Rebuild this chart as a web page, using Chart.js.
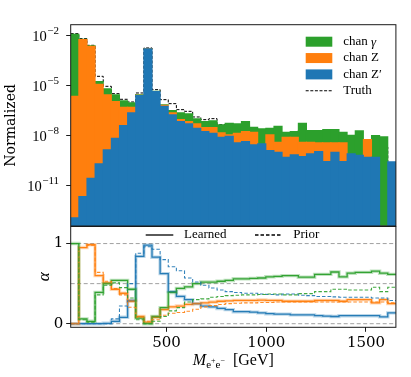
<!DOCTYPE html>
<html>
<head>
<meta charset="utf-8">
<script src="https://cdn.jsdelivr.net/npm/chart.js@4.4.0/dist/chart.umd.min.js"></script>
<style>
  html, body { margin: 0; padding: 0; background: #fff; }
  #wrap { position: relative; width: 411px; height: 377px; }
  canvas { position: absolute; left: 0; top: 0; }
</style>
</head>
<body>
<div id="wrap">
  <canvas id="top" width="411" height="377"></canvas>
  <canvas id="bot" width="411" height="377"></canvas>
</div>
<script>
// histogram binning (GeV)
const BIN_MIN = 20
const BIN_MAX = 1650
const N_BINS = 40

// stacked normalized histogram, one value per bin
const chanZp = [1.15e-13, 2.19e-12, 2.75e-11, 2.0e-10, 1.38e-9, 6.92e-9, 3.98e-8, 2.29e-7, 2.51e-6, 1.58e-3,
  4.37e-6, 5.75e-7, 1.74e-7, 6.92e-8, 5.01e-8, 2.75e-8, 1.74e-8, 1.38e-8, 7.94e-9, 9.12e-9,
  3.63e-9, 4.37e-9, 2.75e-9, 3.16e-9, 1.26e-9, 1.0e-9, 5.01e-10, 6.92e-10, 5.5e-10, 7.94e-10,
  1.1e-9, 2.75e-10, 1.0e-9, 2.75e-10, 7.94e-10, 6.61e-10, 5.01e-10, 5.01e-10, 0, 2.63e-10]
const chanZ = [2.29e-6, 5.75e-3, 2.29e-3, 1.2e-5, 2.75e-6, 1.1e-6, 4.61e-7, 2.72e-7, 1.2e-7, 1.0e-6,
  5.0e-8, 8.6e-8, 5.5e-8, 2.2e-8, 1.91e-8, 2.26e-8, 1.28e-8, 1.64e-8, 6.5e-9, 1.9e-9,
  1.02e-8, 1.3e-8, 1.31e-8, 0, 9.7e-9, 2.98e-9, 7.44e-9, 7.25e-9, 3.43e-9, 3.19e-9,
  2.53e-9, 3.36e-9, 2.63e-9, 3.36e-9, 0, 0, 5.25e-9, 0, 0, 0]
const chanGamma = [1.2e-2, 2.8e-4, 1.1e-4, 5.4e-6, 3.56e-6, 1.65e-6, 7.0e-7, 4.11e-7, 1.2e-7, 1.0e-6,
  5.0e-8, 3.1e-8, 8.7e-8, 1.38e-7, 1.31e-7, 5.0e-8, 3.9e-8, 4.57e-8, 2.92e-8, 4.4e-8,
  3.63e-8, 5.18e-8, 1.58e-8, 2.19e-8, 1.65e-8, 3.23e-8, 7.9e-9, 9.4e-9, 5.1e-8, 1.6e-8,
  1.64e-8, 1.93e-8, 1.93e-8, 1.22e-8, 9.7e-9, 1.84e-8, 0, 9.5e-9, 8.32e-9, 0]
const truth = [1.26e-2, 6.31e-3, 2.51e-3, 3.47e-5, 8.71e-6, 3.16e-6, 1.45e-6, 1.0e-6, 3.47e-6, 1.74e-3,
  5.5e-6, 1.38e-6, 7.94e-7, 3.47e-7, 2.75e-7, 1.26e-7, 8.71e-8, 1.0e-7, 4.37e-8, 4.37e-8,
  3.98e-8, 4.37e-8, 2.75e-8, 2.0e-8, 1.45e-8, 7.94e-9, 7.94e-9, 7.94e-9, 2.0e-8, 6.92e-9,
  6.31e-9, 5.01e-9, 4.37e-9, 3.98e-9, 3.16e-9, 2.09e-9, 2.09e-9, 6.61e-10, 2.0e-9, 8.32e-11]

// channel weights alpha per bin
const learnedGamma = [1.0, 0.06, 0.03, 0.39, 0.5, 0.54, 0.54, 0.43, 0.07, 0.0,
  0.09, 0.2, 0.39, 0.44, 0.46, 0.5, 0.52, 0.52, 0.53, 0.54,
  0.56, 0.56, 0.565, 0.57, 0.585, 0.59, 0.6, 0.6, 0.58, 0.58,
  0.615, 0.615, 0.645, 0.585, 0.63, 0.64, 0.64, 0.655, 0.63, 0.615]
const learnedZ = [0.0, 0.95, 0.985, 0.6, 0.51, 0.43, 0.38, 0.28, 0.09, 0.02,
  0.08, 0.175, 0.21, 0.22, 0.24, 0.25, 0.26, 0.27, 0.28, 0.285,
  0.29, 0.29, 0.29, 0.295, 0.29, 0.29, 0.28, 0.28, 0.28, 0.28,
  0.29, 0.29, 0.29, 0.28, 0.3, 0.3, 0.3, 0.26, 0.3, 0.25]
const learnedZp = [0.0, 0.0, 0.0, 0.0, 0.005, 0.03, 0.08, 0.29, 0.84, 0.98,
  0.83, 0.625, 0.4, 0.34, 0.3, 0.25, 0.22, 0.21, 0.19, 0.175,
  0.15, 0.15, 0.145, 0.135, 0.125, 0.12, 0.12, 0.11, 0.11, 0.11,
  0.1, 0.095, 0.09, 0.1, 0.1, 0.1, 0.1, 0.1, 0.085, 0.135]
const priorGamma = [1.0, 0.05, 0.02, 0.36, 0.48, 0.51, 0.45, 0.32, 0.05, 0.0,
  0.03, 0.09, 0.16, 0.2, 0.27, 0.3, 0.31, 0.33, 0.34, 0.35,
  0.355, 0.36, 0.36, 0.365, 0.37, 0.37, 0.36, 0.36, 0.375, 0.375,
  0.4, 0.4, 0.43, 0.43, 0.42, 0.42, 0.42, 0.455, 0.4, 0.455]
const priorZ = [0.0, 0.95, 0.98, 0.64, 0.53, 0.44, 0.36, 0.205, 0.08, 0.03,
  0.05, 0.105, 0.13, 0.14, 0.155, 0.18, 0.21, 0.225, 0.24, 0.25,
  0.255, 0.26, 0.26, 0.265, 0.265, 0.27, 0.27, 0.27, 0.27, 0.27,
  0.27, 0.27, 0.27, 0.27, 0.27, 0.27, 0.27, 0.27, 0.27, 0.26]
const priorZp = [0.0, 0.0, 0.0, 0.0, 0.0, 0.06, 0.22, 0.5, 0.88, 0.96,
  0.93, 0.8, 0.71, 0.66, 0.57, 0.52, 0.48, 0.445, 0.42, 0.4,
  0.39, 0.38, 0.38, 0.37, 0.365, 0.36, 0.37, 0.37, 0.355, 0.35,
  0.34, 0.34, 0.335, 0.33, 0.33, 0.33, 0.33, 0.32, 0.32, 0.29]

const logTickExponents = [-2, -5, -8, -11]
const alphaTicks = [0, 1]
const alphaRefLines = [0, 0.5, 1]
const massTicks = [500, 1000, 1500]

const BLUE = '#1f77b4'
const ORANGE = '#ff7f0e'
const GREEN = '#2ca02c'
const SERIF = '"DejaVu Serif", serif'
const TIMES = '"Liberation Serif", serif'

// layout of the two panels (pixels)
const PLOT_LEFT = 70.7
const PLOT_RIGHT = 395.9
const TOP_Y0 = 24.7
const TOP_Y1 = 226
const BOT_Y0 = 226.5
const BOT_Y1 = 327.3
const BAR_PX = (PLOT_RIGHT - PLOT_LEFT) / N_BINS + 0.4

const binWidth = (BIN_MAX - BIN_MIN) / N_BINS
const edges = Array.from({ length: N_BINS + 1 }, (_, i) => BIN_MIN + i * binWidth)
const binLabels = edges.slice(0, N_BINS).map((e, i) => Math.round(e) + '–' + Math.round(edges[i + 1]))

// left-edge points plus the closing right edge, drawn as a histogram step
function stepPoints (values) {
  const pts = values.map((v, i) => ({ x: edges[i], y: v }))
  pts.push({ x: edges[N_BINS], y: values[N_BINS - 1] })
  return pts
}

function fade (hex, a) {
  const n = parseInt(hex.slice(1), 16)
  return `rgba(${n >> 16},${(n >> 8) & 255},${n & 255},${a})`
}

function drawFrame (chart) {
  const { ctx, chartArea: a } = chart
  ctx.save()
  ctx.strokeStyle = '#1a1a1a'
  ctx.lineWidth = 1
  ctx.strokeRect(a.left, a.top, a.right - a.left, a.bottom - a.top)
  ctx.restore()
}

const topDecor = {
  id: 'topDecor',
  afterDraw (chart) {
    const { ctx } = chart
    drawFrame(chart)
    const yS = chart.scales.y
    ctx.save()
    ctx.fillStyle = '#000'
    ctx.textBaseline = 'middle'
    ctx.textAlign = 'right'
    for (const e of logTickExponents) {
      const py = yS.getPixelForValue(Math.pow(10, e))
      const sup = '−' + Math.abs(e)
      ctx.font = '11px ' + TIMES
      const w = ctx.measureText(sup).width
      ctx.fillText(sup, 59, py - 4)
      ctx.font = '14.5px ' + TIMES
      ctx.fillText('10', 59 - w - 0.5, py + 2)
    }
    // legend
    const items = [
      { label: 'chan ', greek: 'γ', color: GREEN },
      { label: 'chan Z', color: ORANGE },
      { label: 'chan Z′', color: BLUE },
      { label: 'Truth', dashed: true }
    ]
    const x0 = 305.7
    const x1 = 332.3
    items.forEach((it, i) => {
      const cy = 41.7 + i * 16.35
      if (it.dashed) {
        ctx.strokeStyle = '#000'
        ctx.lineWidth = 1
        ctx.setLineDash([3, 1.6])
        ctx.beginPath()
        ctx.moveTo(x0, cy)
        ctx.lineTo(x1, cy)
        ctx.stroke()
        ctx.setLineDash([])
      } else {
        ctx.fillStyle = it.color
        ctx.fillRect(x0, cy - 5, x1 - x0, 10)
      }
      ctx.fillStyle = '#000'
      ctx.textAlign = 'left'
      ctx.font = '13px ' + TIMES
      ctx.fillText(it.label, 343.3, cy)
      if (it.greek) {
        const w = ctx.measureText(it.label).width
        ctx.font = 'italic 13px ' + TIMES
        ctx.fillText(it.greek, 343.3 + w, cy + 1)
      }
    })
    ctx.restore()
  }
}

const botDecor = {
  id: 'botDecor',
  beforeDatasetsDraw (chart) {
    const { ctx, chartArea: a } = chart
    const yS = chart.scales.y
    ctx.save()
    ctx.strokeStyle = '#a0a0a0'
    ctx.lineWidth = 1
    ctx.setLineDash([4, 2.5])
    for (const v of alphaRefLines) {
      const py = yS.getPixelForValue(v)
      ctx.beginPath()
      ctx.moveTo(a.left, py)
      ctx.lineTo(a.right, py)
      ctx.stroke()
    }
    ctx.restore()
  },
  afterDraw (chart) {
    const { ctx, chartArea: a } = chart
    drawFrame(chart)
    ctx.save()
    // legend
    ctx.strokeStyle = '#000'
    ctx.lineWidth = 1.3
    ctx.beginPath()
    ctx.moveTo(145.7, 235)
    ctx.lineTo(173.3, 235)
    ctx.stroke()
    ctx.setLineDash([3.5, 2])
    ctx.beginPath()
    ctx.moveTo(255, 235)
    ctx.lineTo(281.7, 235)
    ctx.stroke()
    ctx.setLineDash([])
    ctx.fillStyle = '#000'
    ctx.textBaseline = 'middle'
    ctx.textAlign = 'left'
    ctx.font = '13px ' + TIMES
    ctx.fillText('Learned', 184, 235)
    ctx.fillText('Prior', 293.3, 235)

    // x axis title: M_{e+e-} [GeV]
    const base = 365
    const parts = [
      { t: 'M', f: 'italic 16px ' + TIMES, dy: 0 },
      { t: 'e', f: '11px ' + TIMES, dy: 3 },
      { t: '+', f: '8px ' + TIMES, dy: -2 },
      { t: 'e', f: '11px ' + TIMES, dy: 3 },
      { t: '−', f: '8px ' + TIMES, dy: -2 },
      { t: '  [GeV]', f: '16px ' + TIMES, dy: 0 }
    ]
    let total = 0
    for (const p of parts) {
      ctx.font = p.f
      p.w = ctx.measureText(p.t).width
      total += p.w
    }
    let x = (a.left + a.right) / 2 - total / 2
    ctx.textBaseline = 'alphabetic'
    for (const p of parts) {
      ctx.font = p.f
      ctx.fillText(p.t, x, base + p.dy)
      x += p.w
    }
    ctx.restore()
  }
}

function histBar (label, values, color) {
  return {
    label,
    data: values,
    backgroundColor: color,
    stack: 'hist',
    grouped: false,
    barThickness: BAR_PX,
    borderWidth: 0
  }
}

new Chart(document.getElementById('top'), {
  type: 'bar',
  data: {
    labels: binLabels,
    datasets: [
      histBar('chan Z′', chanZp, BLUE),
      histBar('chan Z', chanZ, ORANGE),
      histBar('chan γ', chanGamma, GREEN),
      {
        type: 'line',
        label: 'Truth',
        data: stepPoints(truth),
        xAxisID: 'xe',
        stack: 'truth',
        stepped: 'before',
        borderColor: '#000',
        borderWidth: 1,
        borderDash: [3, 1.6],
        pointRadius: 0,
        fill: false
      }
    ]
  },
  options: {
    responsive: false,
    animation: false,
    layout: { padding: { left: 0, right: 411 - PLOT_RIGHT, top: TOP_Y0, bottom: 377 - TOP_Y1 } },
    plugins: { legend: { display: false }, tooltip: { enabled: false } },
    scales: {
      x: { type: 'category', display: false, stacked: true },
      xe: { type: 'linear', display: false, min: BIN_MIN, max: BIN_MAX, offset: false, grid: { offset: false } },
      y: {
        type: 'logarithmic',
        stacked: true,
        min: Math.pow(10, -13.44),
        max: Math.pow(10, -1.364),
        afterBuildTicks: (s) => { s.ticks = logTickExponents.map((e) => ({ value: Math.pow(10, e), major: true })) },
        afterFit: (s) => { s.width = PLOT_LEFT },
        border: { display: false },
        grid: { drawOnChartArea: false, drawTicks: true, tickLength: 4.5, color: '#000', tickWidth: 0.9 },
        ticks: { display: false },
        title: { display: true, text: 'Normalized', color: '#000', font: { family: SERIF, size: 14 }, padding: { top: 3, bottom: 0 } }
      }
    }
  },
  plugins: [topDecor]
})

function alphaLine (label, values, color, style) {
  const styles = {
    prior: { width: 1.1, dash: [3.5, 2], alpha: 0.9 },
    halo: { width: 3.4, dash: [], alpha: 0.3 },
    learned: { width: 1.3, dash: [], alpha: 0.95 }
  }
  const s = styles[style]
  return {
    label,
    data: stepPoints(values),
    stepped: 'before',
    borderColor: fade(color, s.alpha),
    borderWidth: s.width,
    borderDash: s.dash,
    pointRadius: 0,
    fill: false
  }
}

new Chart(document.getElementById('bot'), {
  type: 'line',
  data: {
    datasets: [
      alphaLine('Prior γ', priorGamma, GREEN, 'prior'),
      alphaLine('Prior Z', priorZ, ORANGE, 'prior'),
      alphaLine('Prior Z′', priorZp, BLUE, 'prior'),
      alphaLine('', learnedGamma, GREEN, 'halo'),
      alphaLine('', learnedZ, ORANGE, 'halo'),
      alphaLine('', learnedZp, BLUE, 'halo'),
      alphaLine('Learned γ', learnedGamma, GREEN, 'learned'),
      alphaLine('Learned Z', learnedZ, ORANGE, 'learned'),
      alphaLine('Learned Z′', learnedZp, BLUE, 'learned')
    ]
  },
  options: {
    responsive: false,
    animation: false,
    layout: { padding: { left: 0, right: 411 - PLOT_RIGHT, top: BOT_Y0, bottom: 0 } },
    plugins: { legend: { display: false }, tooltip: { enabled: false } },
    scales: {
      x: {
        type: 'linear',
        min: BIN_MIN,
        max: BIN_MAX,
        afterBuildTicks: (s) => { s.ticks = massTicks.map((v) => ({ value: v })) },
        afterFit: (s) => { s.height = 377 - BOT_Y1 },
        border: { display: false },
        grid: { drawOnChartArea: false, drawTicks: true, tickLength: 4.5, color: '#000', tickWidth: 0.9 },
        ticks: { color: '#000', font: { family: SERIF, size: 15 }, padding: 2, maxRotation: 0, callback: (v) => String(v) }
      },
      y: {
        type: 'linear',
        min: -0.045,
        max: 1.213,
        afterBuildTicks: (s) => { s.ticks = alphaTicks.map((v) => ({ value: v })) },
        afterFit: (s) => { s.width = PLOT_LEFT },
        border: { display: false },
        grid: { drawOnChartArea: false, drawTicks: true, tickLength: 4.5, color: '#000', tickWidth: 0.9 },
        ticks: { color: '#000', font: { family: SERIF, size: 15 }, padding: 3, callback: (v) => String(v) },
        title: { display: true, text: 'α', color: '#000', font: { family: TIMES, size: 17, style: 'italic' }, padding: { top: 34, bottom: 0 } }
      }
    }
  },
  plugins: [botDecor]
})
</script>
</body>
</html>
